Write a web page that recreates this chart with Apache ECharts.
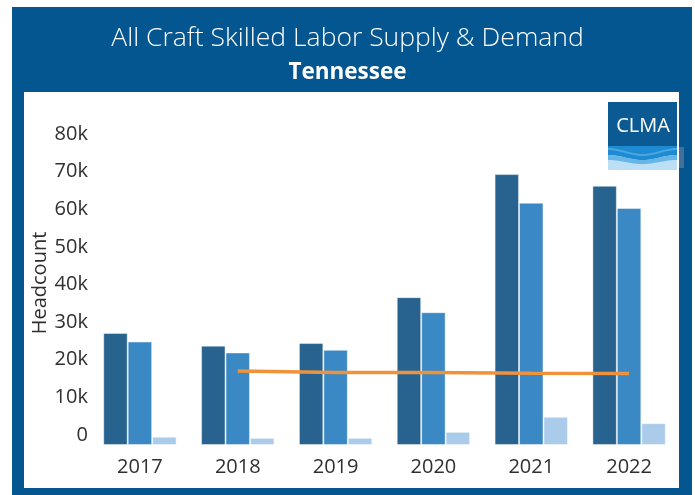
<!DOCTYPE html>
<html>
<head>
<meta charset="utf-8">
<title>All Craft Skilled Labor Supply & Demand - Tennessee</title>
<script src="https://cdn.jsdelivr.net/npm/echarts@6/dist/echarts.min.js"></script>
<style>
  html, body { margin: 0; padding: 0; background: #ffffff; }
  #chart { width: 695px; height: 495px; }
</style>
</head>
<body>
<div id="chart"></div>
<script>
// Years on the category axis
const years = ['2017', '2018', '2019', '2020', '2021', '2022'];

// Headcount series
const demand = [29800, 26400, 27100, 39300, 72000, 68900];
const supply = [27500, 24600, 25300, 35300, 64400, 63000];
const openings = [2200, 1900, 1900, 3500, 7500, 5800];
const average = [null, 19700, 19300, 19300, 19100, 19000];

// Value axis ticks
const yTicks = [0, 10000, 20000, 30000, 40000, 50000, 60000, 70000, 80000];

const FRAME_BLUE = '#03568f';
const TEXT = '#2f2f2f';
const FONT = '"Open Sans", "Noto Sans", sans-serif';

// Logo wave: symmetric curve across the badge, dipping to depth at its middle
function wave(x0, x1, yEdge, yMid, n) {
  const pts = [];
  for (let i = 0; i <= n; i++) {
    const t = i / n;
    const x = x0 + (x1 - x0) * t;
    const y = yEdge + (yMid - yEdge) * Math.pow(Math.sin(Math.PI * t), 2);
    pts.push([x, y]);
  }
  return pts;
}
function band(x0, x1, topEdge, topMid, botEdge, botMid) {
  const top = wave(x0, x1, topEdge, topMid, 24);
  const bot = wave(x0, x1, botEdge, botMid, 24).reverse();
  return top.concat(bot);
}

const chart = echarts.init(document.getElementById('chart'), null, { renderer: 'canvas' });

function barItem(color) {
  return { color: color, borderColor: 'rgba(255,255,255,0.45)', borderWidth: 1 };
}

chart.setOption({
  animation: false,
  backgroundColor: '#ffffff',
  title: [
    {
      text: 'All Craft Skilled Labor Supply & Demand',
      left: 'center', top: 20,
      textStyle: { color: '#ffffff', fontFamily: FONT, fontWeight: 300, fontSize: 26.5 }
    },
    {
      text: 'Tennessee',
      left: 'center', top: 56,
      textStyle: { color: '#ffffff', fontFamily: FONT, fontWeight: 'bold', fontSize: 22.5 }
    }
  ],
  graphic: [
    // outer blue frame and white plotting panel
    { type: 'rect', z: -10, silent: true, shape: { x: 12, y: 7, width: 680, height: 488 }, style: { fill: FRAME_BLUE } },
    { type: 'rect', z: -9, silent: true, shape: { x: 24, y: 92, width: 655, height: 396 }, style: { fill: '#ffffff' } },
    { type: 'rect', z: -9, silent: true, shape: { x: 679, y: 147, width: 5, height: 21 }, style: { fill: '#3f6f9b' } },
    // CLMA logo
    { type: 'rect', z: 100, silent: true, shape: { x: 608, y: 102, width: 69, height: 44 }, style: { fill: '#0b5a93' } },
    { type: 'rect', z: 100, silent: true, shape: { x: 608, y: 146, width: 69, height: 24 }, style: { fill: '#bcdff5' } },
    { type: 'polygon', z: 101, silent: true, shape: { points: band(608, 677, 146, 146, 155, 160) }, style: { fill: '#1d8ad2' } },
    { type: 'polygon', z: 101, silent: true, shape: { points: band(608, 677, 155, 160, 160, 164) }, style: { fill: '#67b5e7' } },
    { type: 'polygon', z: 102, silent: true, shape: { points: band(608, 677, 148, 154, 150, 156) }, style: { fill: '#4aa6e0' } },
    {
      type: 'text', z: 103, silent: true,
      style: { x: 643, y: 126, text: 'CLMA', fill: '#ffffff', font: '500 20px "Open Sans", sans-serif', align: 'center', verticalAlign: 'middle' }
    },
    // value axis title
    {
      type: 'text', z: 10, silent: true,
      x: 40, y: 283, rotation: Math.PI / 2,
      style: { text: 'Headcount', fill: TEXT, font: '20px "Open Sans", sans-serif', align: 'center', verticalAlign: 'middle' }
    }
  ],
  grid: { left: 91, right: 17, top: 144, bottom: 50, containLabel: false },
  xAxis: {
    type: 'category',
    data: years,
    axisLine: { show: false },
    axisTick: { show: false },
    axisLabel: { color: TEXT, fontFamily: FONT, fontSize: 20, margin: 12 }
  },
  yAxis: {
    type: 'value',
    min: yTicks[0],
    max: yTicks[yTicks.length - 1],
    interval: yTicks[1] - yTicks[0],
    splitLine: { show: false },
    axisLine: { show: false },
    axisTick: { show: false },
    axisLabel: {
      color: TEXT, fontFamily: FONT, fontSize: 20, margin: 3,
      verticalAlign: 'bottom',
      formatter: function (v) { return v === 0 ? '0' : (v / 1000) + 'k'; }
    }
  },
  series: [
    { name: 'Demand', type: 'bar', data: demand, barGap: '0%', barCategoryGap: '25%', itemStyle: barItem('#28638f') },
    { name: 'Supply', type: 'bar', data: supply, itemStyle: barItem('#3a88c4') },
    { name: 'Openings', type: 'bar', data: openings, itemStyle: barItem('#aacbe9') },
    {
      name: 'Average', type: 'line', data: average, z: 5,
      showSymbol: false, symbol: 'none',
      lineStyle: { color: '#f0923b', width: 3.5 },
      itemStyle: { color: '#f0923b' }
    }
  ]
});
</script>
</body>
</html>
